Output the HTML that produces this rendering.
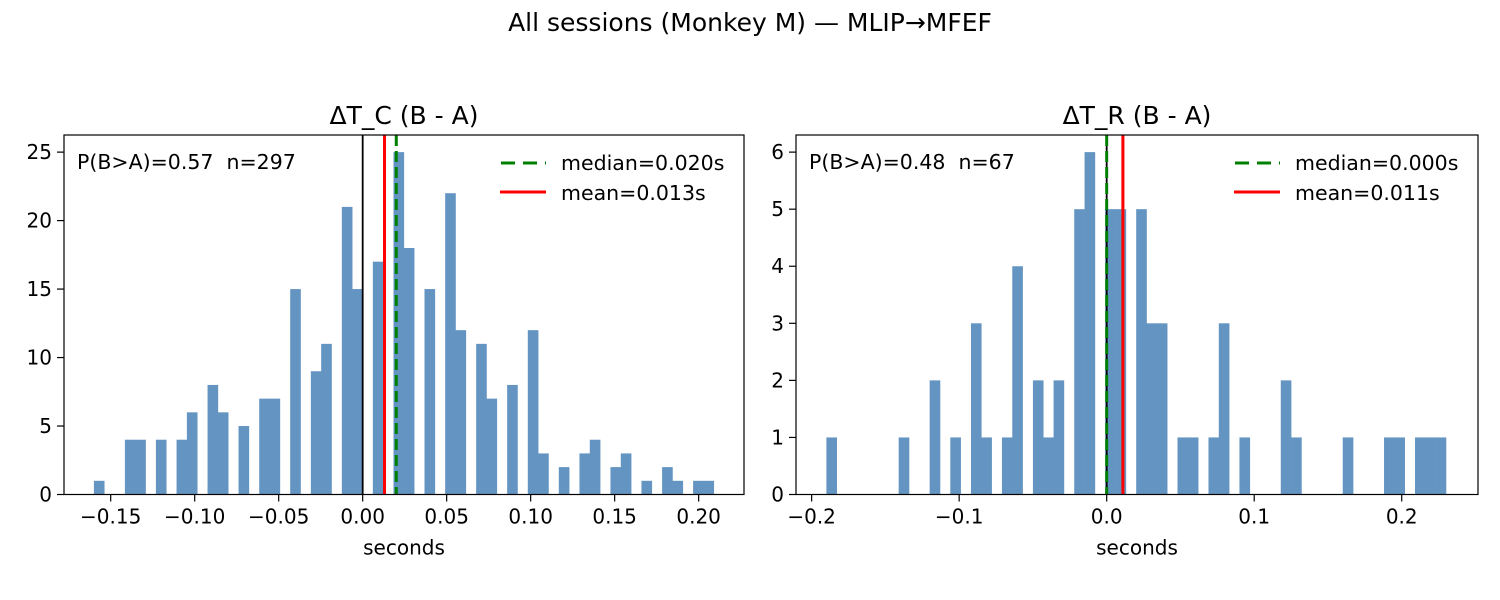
<!DOCTYPE html>
<html><head><meta charset="utf-8"><style>
body{margin:0;background:#fff;}
svg{display:block;font-family:"DejaVu Sans","Liberation Sans",sans-serif;}
</style></head><body>
<svg id="fig" width="1500" height="600" viewBox="0 0 1500 600">
<text x="750" y="31" font-size="25" text-anchor="middle">All sessions (Monkey M) — MLIP→MFEF</text>
</svg>
<script>
const leftCounts = [1,0,0,4,4,0,4,0,4,6,0,8,6,0,5,0,7,7,0,15,0,9,11,0,21,15,0,17,0,25,18,0,15,0,22,12,0,11,7,0,8,0,12,3,0,2,0,3,4,0,2,3,0,1,0,2,1,0,1,1];
const leftBinStart = -0.16, leftBinWidth = 0.369/60;
const leftXTicks = [-0.15,-0.10,-0.05,0.00,0.05,0.10,0.15,0.20];
const leftXTickLabels = ["−0.15","−0.10","−0.05","0.00","0.05","0.10","0.15","0.20"];
const leftYTicks = [0,5,10,15,20,25];
const leftStats = {median:0.020, mean:0.013, p:"0.57", n:297};

const rightCounts = [1,0,0,0,0,0,0,1,0,0,2,0,1,0,3,1,0,1,4,0,2,1,2,0,5,6,0,5,5,0,5,3,3,0,1,1,0,1,3,0,1,0,0,0,2,1,0,0,0,0,1,0,0,0,1,1,0,1,1,1];
const rightBinStart = -0.19, rightBinWidth = 0.007;
const rightXTicks = [-0.2,-0.1,0.0,0.1,0.2];
const rightXTickLabels = ["−0.2","−0.1","0.0","0.1","0.2"];
const rightYTicks = [0,1,2,3,4,5,6];
const rightStats = {median:0.000, mean:0.011, p:"0.48", n:67};

const NS="http://www.w3.org/2000/svg";
const svg=document.getElementById('fig');
function mk(tag,attrs,parent){const e=document.createElementNS(NS,tag);for(const k in attrs)e.setAttribute(k,attrs[k]);(parent||svg).appendChild(e);return e;}

function panel(cfg){
  const {x0,x1,y0,y1,xmin,xmax,ymax,counts,bs,bw,xt,xtl,yt,st,title,prefix}=cfg;
  const g=mk('g',{});
  
  
  const X=v=>x0+(v-xmin)/(xmax-xmin)*(x1-x0);
  const Y=v=>y1-v/ymax*(y1-y0);
  counts.forEach((c,i)=>{
    if(!c)return;
    const r=mk('rect',{x:X(bs+i*bw),y:Y(c),width:X(bs+(i+1)*bw)-X(bs+i*bw)+0.3,height:Y(0)-Y(c),fill:'#6495c2'},g);
    
    
  });
  const zl=mk('line',{x1:X(0),x2:X(0),y1:y0,y2:y1,stroke:'#000','stroke-width':1.8},g);
  
  
  const ml=mk('line',{x1:X(st.mean),x2:X(st.mean),y1:y0,y2:y1,stroke:'#ff0000','stroke-width':3},g);
  
  
  const dl=mk('line',{x1:X(st.median),x2:X(st.median),y1:y0,y2:y1,stroke:'#008000','stroke-width':3,'stroke-dasharray':'11,5'},g);
  
  
  const fr=mk('rect',{x:x0,y:y0,width:x1-x0,height:y1-y0,fill:'none',stroke:'#000','stroke-width':1.2},g);
  
  
  xt.forEach((v,i)=>{
    mk('line',{x1:X(v),x2:X(v),y1:y1,y2:y1+7,stroke:'#000','stroke-width':1.2},g);
    const t=mk('text',{x:X(v),y:y1+29,'font-size':20,'text-anchor':'middle'},g);
    t.textContent=xtl[i];
    
    
  });
  yt.forEach(v=>{
    mk('line',{x1:x0-7,x2:x0,y1:Y(v),y2:Y(v),stroke:'#000','stroke-width':1.2},g);
    const t=mk('text',{x:x0-12,y:Y(v)+7,'font-size':20,'text-anchor':'end'},g);
    t.textContent=String(v);
    
    
  });
  const xl=mk('text',{x:(x0+x1)/2,y:y1+60,'font-size':20,'text-anchor':'middle'},g);
  xl.textContent='seconds';
  
  
  const ti=mk('text',{x:(x0+x1)/2,y:y0-11,'font-size':25,'text-anchor':'middle'},g);
  ti.textContent=title;
  
  
  const an=mk('text',{x:x0+13,y:y0+34,'font-size':20.5},g);
  an.textContent='P(B>A)='+st.p+'\u00a0\u00a0n='+st.n;
  
  
  const lg=mk('g',{},g);
  
  
  const lx=x1-244;
  mk('line',{x1:lx+1,x2:lx+46,y1:y0+28,y2:y0+28,stroke:'#008000','stroke-width':3,'stroke-dasharray':'14,8'},lg);
  const t1=mk('text',{x:lx+61,y:y0+35,'font-size':20.5},lg);
  t1.textContent='median='+st.median.toFixed(3)+'s';
  
  
  mk('line',{x1:lx,x2:lx+46,y1:y0+57,y2:y0+57,stroke:'#ff0000','stroke-width':3},lg);
  const t2=mk('text',{x:lx+61,y:y0+65,'font-size':20.5},lg);
  t2.textContent='mean='+st.mean.toFixed(3)+'s';
  
  
}
panel({x0:64,x1:744,y0:135,y1:494.5,xmin:-0.1778,xmax:0.2270,ymax:26.25,counts:leftCounts,bs:leftBinStart,bw:leftBinWidth,xt:leftXTicks,xtl:leftXTickLabels,yt:leftYTicks,st:leftStats,title:'ΔT_C (B - A)',prefix:'left'});
panel({x0:796,x1:1478,y0:135,y1:494.5,xmin:-0.2106,xmax:0.2517,ymax:6.3,counts:rightCounts,bs:rightBinStart,bw:rightBinWidth,xt:rightXTicks,xtl:rightXTickLabels,yt:rightYTicks,st:rightStats,title:'ΔT_R (B - A)',prefix:'right'});
</script>
</body></html>
